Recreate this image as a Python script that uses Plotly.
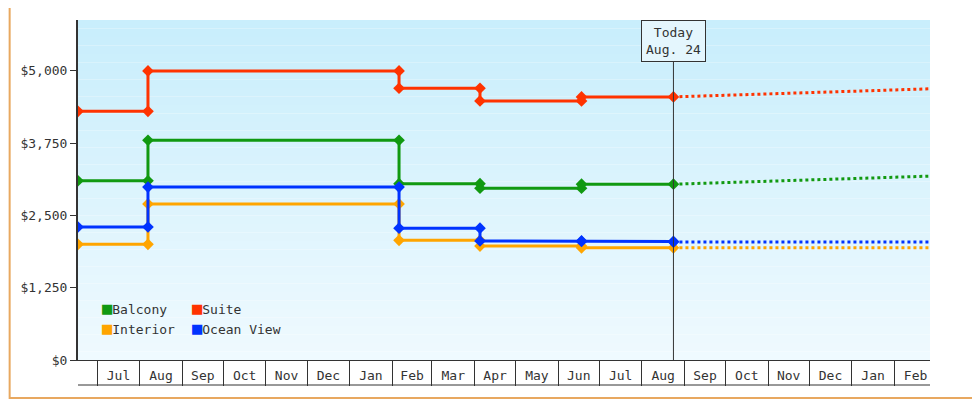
import plotly.graph_objects as go

change_dates = ["2023-06-17", "2023-08-07", "2024-02-06", "2024-04-05", "2024-06-18", "2024-08-24"]
today = "2024-08-24"
forecast_dates = ["2024-08-24", "2024-11-10", "2025-02-27"]

names = ["Balcony", "Suite", "Interior", "Ocean View"]
colors = {"Balcony": "#119911", "Suite": "#ff3300", "Interior": "#ffa500", "Ocean View": "#0033ff"}
prices = {
    "Balcony":    [3100, 3800, 3050, 2970, 3040, 3040],
    "Suite":      [4300, 5000, 4700, 4480, 4550, 4550],
    "Interior":   [2000, 2700, 2070, 1970, 1940, 1940],
    "Ocean View": [2300, 2990, 2280, 2060, 2050, 2040],
}
forecast = {
    "Balcony":    [3040, 3100, 3180],
    "Suite":      [4550, 4610, 4690],
    "Interior":   [1940, 1940, 1940],
    "Ocean View": [2040, 2040, 2040],
}
y_ticks = [0, 1250, 2500, 3750, 5000]
y_labels = ["$0", "$1,250", "$2,500", "$3,750", "$5,000"]

FONT = "DejaVu Sans Mono"
fig = go.Figure()

for n in names:
    p = prices[n]
    xs, ys = [change_dates[0]], [p[0]]
    for i in range(1, len(change_dates)):
        if p[i] != p[i - 1]:
            xs += [change_dates[i], change_dates[i]]
            ys += [p[i - 1], p[i]]
        else:
            xs.append(change_dates[i]); ys.append(p[i])
    fig.add_trace(go.Scatter(x=xs, y=ys, mode="lines+markers", showlegend=False,
                             line=dict(color=colors[n], width=3),
                             marker=dict(symbol="diamond", size=9, color=colors[n])))
    fig.add_trace(go.Scatter(x=forecast_dates, y=forecast[n], mode="lines", showlegend=False,
                             line=dict(color=colors[n], width=3, dash="dot")))

# legend as annotations (2 columns)
leg_pos = {"Balcony": (0.026, 0.118), "Suite": (0.131, 0.118),
           "Interior": (0.026, 0.059), "Ocean View": (0.131, 0.059)}
for n in names:
    x, y = leg_pos[n]
    fig.add_annotation(xref="x domain", yref="y domain", x=x, y=y, xanchor="left",
                       showarrow=False,
                       text="<span style='color:%s;font-size:17px'>■</span>%s" % (colors[n], n),
                       font=dict(family=FONT, size=13, color="#333"))

# gradient background
N = 40
top, bot = (201, 238, 252), (239, 250, 255)
for i in range(N):
    t = i / (N - 1)
    c = tuple(int(top[k] + (bot[k] - top[k]) * t) for k in range(3))
    fig.add_shape(type="rect", xref="x domain", yref="y domain", x0=0, x1=1,
                  y0=1 - (i + 1) / N, y1=1 - i / N, layer="below",
                  fillcolor="rgb(%d,%d,%d)" % c, line_width=0)

fig.add_shape(type="line", xref="x", yref="y domain", x0=today, x1=today, y0=0, y1=0.88,
              line=dict(color="#333", width=1))
fig.add_annotation(x=today, xref="x", y=1, yref="y domain", yanchor="top",
                   text="Today<br>Aug. 24", showarrow=False, bgcolor="#e4f6fd",
                   bordercolor="#333", borderwidth=1, borderpad=4,
                   font=dict(family=FONT, size=13, color="#333"))
fig.add_shape(type="line", xref="x domain", yref="y domain", x0=0, x1=1,
              y0=-25 / 340, y1=-25 / 340, line=dict(color="#333", width=1))
fig.add_shape(type="rect", xref="paper", yref="paper", x0=-69 / 860, x1=1 + 48 / 860,
              y0=-38 / 340, y1=1 + 19 / 340, line=dict(color="#e8a860", width=2))

fig.update_layout(
    width=972, height=392, margin=dict(l=62, r=50, t=12, b=40),
    paper_bgcolor="white", plot_bgcolor="rgba(0,0,0,0)", showlegend=False,
    font=dict(family=FONT, size=13, color="#333"),
    xaxis=dict(type="date", range=["2023-06-17", "2025-02-27"], dtick="M1", tick0="2023-07-01",
               ticklabelmode="period", tickformat="%b", ticks="outside", ticklen=25,
               tickcolor="#333", ticklabelstandoff=-22, showgrid=False, zeroline=False,
               showline=True, linecolor="#333", linewidth=1),
    yaxis=dict(range=[0, 5880], tickvals=y_ticks, ticktext=y_labels, ticks="outside",
               ticklen=6, tickcolor="#333", showgrid=False, zeroline=False,
               showline=True, linecolor="#333", linewidth=2),
)
fig.write_html("out.html")
